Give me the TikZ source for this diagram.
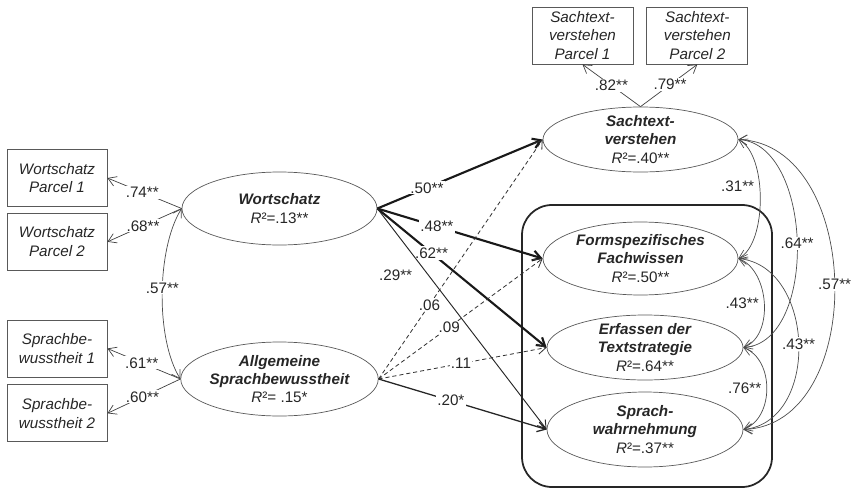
\documentclass[tikz,border=0pt]{standalone}
\usepackage{fontspec}
\setmainfont{Liberation Sans}
\usepackage{tikz}
\usetikzlibrary{arrows.meta,positioning,shapes.geometric}

\newcommand{\rsq}[1]{\mdseries\upshape\textit{R}²=#1}

\begin{document}
\begin{tikzpicture}[
  x=0.3mm, y=-0.3mm,
  every node/.style={font=\fontsize{13}{15.5}\selectfont, text=black!85},
  latent/.style={ellipse, draw=black!65, line width=0.6pt, minimum width=58.5mm,
    minimum height=21.9mm, inner xsep=0pt, inner ysep=-6pt, align=center,
    font=\fontsize{13}{15.5}\selectfont\bfseries\itshape},
  manifest/.style={draw=black!65, line width=0.7pt, minimum width=30mm, minimum height=17.1mm,
    inner sep=0pt, align=center, font=\fontsize{13}{16}\selectfont\itshape},
  lbl/.style={fill=white, inner sep=1pt},
  tip/.style={-{Straight Barb[length=2.4mm, width=3mm]}},
  load/.style={tip, draw=black!75, line width=0.6pt},
  strong/.style={tip, draw=black!90, line width=1.8pt},
  medium/.style={tip, draw=black!85, line width=1.1pt},
  plain/.style={tip, draw=black!85, line width=0.8pt},
  weak/.style={tip, draw=black!80, line width=0.7pt, dash pattern=on 3.5pt off 2.5pt},
  cov/.style={{Straight Barb[length=2.4mm, width=3mm]}-{Straight Barb[length=2.4mm, width=3mm]},
    draw=black!70, line width=0.6pt},
  frame/.style={draw=black!85, line width=1.5pt, rounded corners=9mm}
]
\useasboundingbox (0,0) rectangle (853,489);

% indicators
\node[manifest] (wp1) at (57,178) {Wortschatz\\Parcel 1};
\node[manifest, below=1.8mm of wp1] (wp2) {Wortschatz\\Parcel 2};
\node[manifest] (sb1) at (57,348.5) {Sprachbe-\\wusstheit 1};
\node[manifest, below=2.1mm of sb1] (sb2) {Sprachbe-\\wusstheit 2};
\node[manifest, minimum width=30.3mm] (sp1) at (582.5,35.5) {Sachtext-\\verstehen\\Parcel 1};
\node[manifest, minimum width=30.3mm, right=3.9mm of sp1] (sp2) {Sachtext-\\verstehen\\Parcel 2};

% predictors
\node[latent] (wort) at (279.5,208.5) {Wortschatz\\\rsq{.13**}};
\node[latent, minimum height=22.2mm] (sprach) at (279.5,379) {Allgemeine\\Sprachbewusstheit\\\rsq{ .15*}};

% outcomes
\node[latent, minimum height=19.5mm] (sach) at (640.5,139.5) {Sachtext-\\verstehen\\\rsq{.40**}};
\node[latent] (forms) at (640.5,258.5) {Formspezifisches\\Fachwissen\\\rsq{.50**}};
\node[latent, minimum width=58.8mm, minimum height=19.5mm] (erf) at (645,347.5) {Erfassen der\\Textstrategie\\\rsq{.64**}};
\node[latent, minimum width=58.8mm, minimum height=22.5mm] (wahr) at (645,429.5) {Sprach-\\wahrnehmung\\\rsq{.37**}};

% group of the three text competences
\draw[frame] (522,205) rectangle (772,487);

% loadings
\draw[load] (wort.west) -- node[lbl, pos=0.53] {.74**} (wp1.east);
\draw[load] (wort.west) -- node[lbl, pos=0.52] {.68**} (wp2.east);
\draw[load] (sprach.west) -- node[lbl, pos=0.53] {.61**} (sb1.east);
\draw[load] (sprach.west) -- node[lbl, pos=0.52] {.60**} (sb2.east);
\draw[load] (sach.north) -- node[lbl, pos=0.5] {.82**} (sp1.south);
\draw[load] (sach.north) -- node[lbl, pos=0.52] {.79**} (sp2.south);

% paths from Wortschatz
\draw[strong] (wort.east) -- node[lbl, pos=0.3] {.50**} (sach.west);
\draw[strong] (wort.east) -- node[lbl, pos=0.36] {.48**} (forms.west);
\draw[strong] (wort.east) -- node[lbl, pos=0.32] {.62**} (erf.west);
\draw[plain] (wort.east) -- node[pos=0.3, left=3.5mm] {.29**} (wahr.west);

% paths from Sprachbewusstheit
\draw[weak] (sprach.east) -- node[lbl, pos=0.31] {.06} (sach.west);
\draw[weak] (sprach.east) -- node[lbl, pos=0.43] {.09} (forms.west);
\draw[weak] (sprach.east) -- node[lbl, pos=0.49] {.11} (erf.west);
\draw[medium] (sprach.east) -- node[lbl, pos=0.43] {.20*} (wahr.west);

% correlations
\draw[cov] (wort.west) .. controls +(-25,40) and +(-25,-40) .. node[lbl, pos=0.47] {.57**} (sprach.west);
\draw[cov] (sach.east) .. controls +(29,15) and +(29,-15) .. node[pos=0.42, left=1pt] {.31**} (forms.east);
\draw[cov] (sach.east) .. controls +(75,5) and +(75,-5) .. node[lbl, pos=0.5] {.64**} (erf.east);
\draw[cov] (sach.east) .. controls +(125,5) and +(125,-5) .. node[lbl, pos=0.5] {.57**} (wahr.east);
\draw[cov] (forms.east) .. controls +(31,12) and +(31,-12) .. node[pos=0.5, left=1pt] {.43**} (erf.east);
\draw[cov] (forms.east) .. controls +(77,8) and +(77,-8) .. node[lbl, pos=0.5] {.43**} (wahr.east);
\draw[cov] (erf.east) .. controls +(31,12) and +(31,-12) .. node[pos=0.5, left=1pt] {.76**} (wahr.east);
\end{tikzpicture}
\end{document}
